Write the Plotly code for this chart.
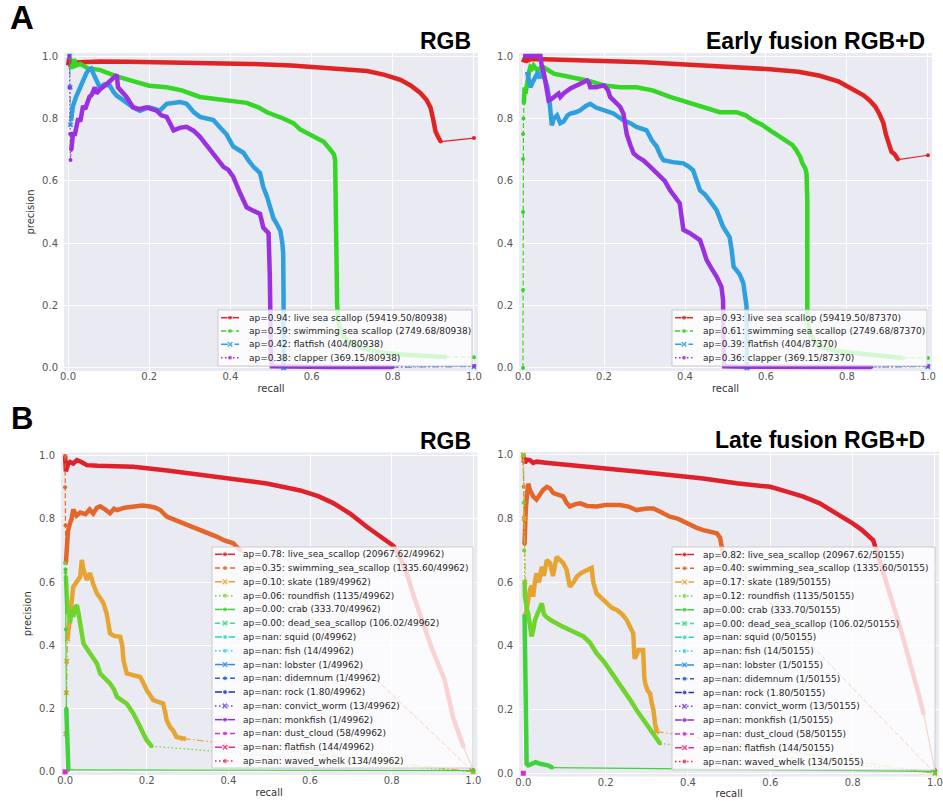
import plotly.graph_objects as go

W, H = 943, 807

# ======================= DATA =======================
# ---- Panel A, left: RGB ----
A_total_rgb = "80938"
A_total_early = "87370"
A_names = ["live sea scallop", "swimming sea scallop", "flatfish", "clapper"]
A_counts = ["59419.50", "2749.68", "404", "369.15"]
A1_ap = ["0.94", "0.59", "0.42", "0.38"]
A2_ap = ["0.93", "0.61", "0.39", "0.36"]

A1_live_x = [0.0, 0.003, 0.006, 0.01, 0.03, 0.08, 0.15, 0.25, 0.325, 0.45, 0.55, 0.605, 0.68, 0.737, 0.78,
             0.819, 0.845, 0.868, 0.883, 0.893, 0.9, 0.905, 0.91, 0.918]
A1_live_y = [0.97, 0.995, 0.965, 0.978, 0.98, 0.983, 0.982, 0.98, 0.979, 0.975, 0.97, 0.965, 0.958, 0.952, 0.94,
             0.924, 0.905, 0.882, 0.86, 0.835, 0.795, 0.76, 0.745, 0.726]
A1_live_thin_x = [0.918, 1.0]
A1_live_thin_y = [0.726, 0.737]

A1_swim_x = [0.005, 0.01, 0.015, 0.02, 0.03, 0.05, 0.078, 0.12, 0.16, 0.2, 0.243, 0.28, 0.325, 0.37, 0.407, 0.44,
             0.47, 0.49, 0.53, 0.555, 0.572, 0.595, 0.613, 0.63, 0.646, 0.655, 0.658, 0.66, 0.661, 0.663, 0.667,
             0.675, 0.69, 0.71, 0.74, 0.78, 0.83, 0.88, 0.93]
A1_swim_y = [0.975, 0.96, 0.99, 0.97, 0.975, 0.96, 0.956, 0.935, 0.92, 0.905, 0.9, 0.89, 0.869, 0.862, 0.856, 0.85,
             0.835, 0.82, 0.8, 0.785, 0.765, 0.75, 0.74, 0.725, 0.70, 0.685, 0.666, 0.5, 0.3, 0.2, 0.14,
             0.11, 0.085, 0.07, 0.058, 0.048, 0.042, 0.038, 0.035]
A1_swim_thin_x = [0.93, 1.0]
A1_swim_thin_y = [0.035, 0.034]

A1_flat_x = [0.008, 0.012, 0.02, 0.03, 0.037, 0.045, 0.05, 0.057, 0.062, 0.07, 0.078, 0.09, 0.103, 0.112, 0.12,
             0.14, 0.16, 0.177, 0.19, 0.2, 0.215, 0.226, 0.243, 0.26, 0.276, 0.292, 0.31, 0.325, 0.34, 0.358,
             0.375, 0.39, 0.407, 0.42, 0.432, 0.445, 0.457, 0.473, 0.481, 0.49, 0.498, 0.506, 0.515, 0.523,
             0.528, 0.53, 0.531, 0.531]
A1_flat_y = [0.8, 0.84, 0.87, 0.9, 0.93, 0.945, 0.955, 0.96, 0.945, 0.92, 0.90, 0.91, 0.905, 0.885, 0.873,
             0.855, 0.836, 0.825, 0.83, 0.836, 0.83, 0.825, 0.847, 0.85, 0.853, 0.847, 0.82, 0.805, 0.8, 0.795,
             0.77, 0.75, 0.71, 0.70, 0.69, 0.665, 0.645, 0.625, 0.58, 0.55, 0.515, 0.48, 0.46, 0.44,
             0.40, 0.367, 0.22, 0.0]
A1_flat_thin_x = [0.004, 0.005, 0.006, 0.008, None, 0.531, 1.0]
A1_flat_thin_y = [1.0, 0.9, 0.78, 0.8, None, 0.0, 0.004]

A1_clap_x = [0.008, 0.012, 0.017, 0.025, 0.03, 0.037, 0.042, 0.053, 0.058, 0.066, 0.07, 0.08, 0.095, 0.11, 0.12,
             0.123, 0.135, 0.144, 0.16, 0.175, 0.193, 0.205, 0.218, 0.23, 0.243, 0.26, 0.275, 0.292, 0.31, 0.325,
             0.34, 0.358, 0.37, 0.383, 0.395, 0.407, 0.424, 0.44, 0.455, 0.473, 0.481, 0.494, 0.497, 0.498, 0.5,
             0.502, 0.55, 0.65, 0.8]
A1_clap_y = [0.7, 0.75, 0.75, 0.8, 0.79, 0.84, 0.83, 0.87, 0.875, 0.9, 0.88, 0.895, 0.91, 0.93, 0.94,
             0.9, 0.88, 0.869, 0.836, 0.83, 0.836, 0.83, 0.825, 0.81, 0.805, 0.762, 0.77, 0.773, 0.76, 0.741,
             0.715, 0.688, 0.665, 0.645, 0.635, 0.613, 0.56, 0.515, 0.505, 0.494, 0.45, 0.432, 0.3, 0.11, 0.03,
             0.005, 0.004, 0.003, 0.003]
A1_clap_thin_x = [0.003, 0.004, 0.005, 0.006, 0.008, None, 0.8, 1.0]
A1_clap_thin_y = [1.0, 0.9, 0.75, 0.667, 0.7, None, 0.003, 0.006]

# ---- Panel A, right: Early fusion RGB+D ----
A2_live_x = [0.0, 0.005, 0.01, 0.02, 0.05, 0.1, 0.2, 0.3, 0.445, 0.53, 0.61, 0.68, 0.733, 0.78, 0.815, 0.84,
             0.856, 0.87, 0.88, 0.89, 0.896, 0.903, 0.91, 0.918, 0.926]
A2_live_y = [0.98, 0.995, 0.985, 0.99, 0.99, 0.988, 0.986, 0.98, 0.97, 0.965, 0.958, 0.95, 0.937, 0.918, 0.895,
             0.875, 0.858, 0.838, 0.815, 0.785, 0.75, 0.72, 0.693, 0.685, 0.668]
A2_live_thin_x = [0.926, 1.0]
A2_live_thin_y = [0.668, 0.682]

A2_swim_x = [0.002, 0.004, 0.006, 0.01, 0.015, 0.018, 0.022, 0.026, 0.03, 0.035, 0.04, 0.05, 0.076, 0.117, 0.158,
             0.2, 0.24, 0.28, 0.32, 0.363, 0.4, 0.445, 0.486, 0.527, 0.55, 0.568, 0.59, 0.61, 0.63, 0.65, 0.665,
             0.675, 0.685, 0.69, 0.697, 0.7, 0.702, 0.702, 0.703, 0.708, 0.72, 0.733, 0.77, 0.815, 0.87, 0.938]
A2_swim_y = [0.85, 0.9, 0.88, 0.92, 0.95, 0.965, 0.96, 0.97, 0.96, 0.954, 0.96, 0.965, 0.944, 0.933, 0.922,
             0.906, 0.9, 0.9, 0.89, 0.869, 0.855, 0.837, 0.82, 0.82, 0.81, 0.794, 0.78, 0.762, 0.745, 0.73, 0.715,
             0.698, 0.675, 0.656, 0.64, 0.624, 0.54, 0.197, 0.15, 0.112, 0.085, 0.069, 0.055, 0.048, 0.04, 0.032]
A2_swim_thin_x = [0.0, 0.0, 0.0, 0.0, 0.0, 0.001, 0.002, None, 0.938, 1.0]
A2_swim_thin_y = [0.0, 0.25, 0.5, 0.67, 0.75, 0.8, 0.85, None, 0.032, 0.032]

A2_flat_x = [0.01, 0.018, 0.025, 0.035, 0.042, 0.047, 0.053, 0.06, 0.065, 0.068, 0.071, 0.076, 0.084, 0.092, 0.1,
             0.11, 0.117, 0.13, 0.141, 0.155, 0.166, 0.18, 0.2, 0.223, 0.248, 0.265, 0.28, 0.305, 0.318, 0.33,
             0.34, 0.347, 0.37, 0.396, 0.41, 0.42, 0.437, 0.45, 0.46, 0.478, 0.494, 0.51, 0.515, 0.52, 0.535,
             0.544, 0.552, 0.552, 0.553]
A2_flat_y = [0.95, 0.9, 0.92, 0.944, 0.93, 0.954, 0.93, 0.9, 0.86, 0.826, 0.778, 0.8, 0.81, 0.785, 0.79,
             0.81, 0.816, 0.82, 0.826, 0.84, 0.847, 0.835, 0.826, 0.816, 0.794, 0.785, 0.773, 0.762, 0.73, 0.71,
             0.68, 0.666, 0.66, 0.656, 0.645, 0.634, 0.57, 0.555, 0.538, 0.506, 0.453, 0.42, 0.38, 0.325, 0.3,
             0.272, 0.197, 0.05, 0.0]
A2_flat_thin_x = [0.553, 1.0]
A2_flat_thin_y = [0.0, 0.004]

A2_clap_x = [0.0, 0.02, 0.043, 0.046, 0.05, 0.055, 0.063, 0.07, 0.076, 0.088, 0.092, 0.1, 0.117, 0.14, 0.158,
             0.163, 0.166, 0.18, 0.2, 0.21, 0.215, 0.23, 0.24, 0.248, 0.252, 0.256, 0.265, 0.273, 0.285, 0.297,
             0.31, 0.322, 0.338, 0.35, 0.363, 0.375, 0.387, 0.392, 0.396, 0.412, 0.425, 0.437, 0.445, 0.453,
             0.465, 0.478, 0.49, 0.494, 0.495, 0.497, 0.55, 0.7, 0.86]
A2_clap_y = [1.0, 1.0, 1.0, 0.97, 0.954, 0.92, 0.858, 0.862, 0.869, 0.88, 0.869, 0.88, 0.896, 0.91, 0.922,
             0.915, 0.9, 0.9, 0.906, 0.89, 0.869, 0.85, 0.837, 0.815, 0.78, 0.75, 0.715, 0.688, 0.675, 0.666,
             0.65, 0.634, 0.613, 0.6, 0.57, 0.55, 0.528, 0.48, 0.443, 0.432, 0.42, 0.41, 0.38, 0.347,
             0.32, 0.293, 0.26, 0.218, 0.1, 0.005, 0.004, 0.003, 0.003]
A2_clap_thin_x = [0.86, 1.0]
A2_clap_thin_y = [0.003, 0.006]

# ---- Panel B ----
B_total_rgb = "49962"
B_total_late = "50155"
B_names = ["live_sea_scallop", "swimming_sea_scallop", "skate", "roundfish", "crab", "dead_sea_scallop",
           "squid", "fish", "lobster", "didemnum", "rock", "convict_worm", "monkfish", "dust_cloud",
           "flatfish", "waved_whelk"]
B_counts = ["20967.62", "1335.60", "189", "1135", "333.70", "106.02", "0", "14", "1", "1", "1.80", "13",
            "1", "58", "144", "134"]
B1_ap = ["0.78", "0.35", "0.10", "0.06", "0.00", "0.00"] + ["nan"] * 10
B2_ap = ["0.82", "0.40", "0.17", "0.12", "0.00", "0.00"] + ["nan"] * 10

# B left: RGB
B1_live_x = [0.0, 0.002, 0.004, 0.008, 0.012, 0.02, 0.029, 0.04, 0.053, 0.08, 0.12, 0.167, 0.25, 0.33, 0.41,
             0.494, 0.576, 0.62, 0.657, 0.7, 0.739, 0.76, 0.78, 0.804, 0.82, 0.837, 0.853, 0.87, 0.885, 0.9,
             0.915, 0.93, 0.95, 0.965, 0.976]
B1_live_y = [1.0, 0.95, 0.96, 0.975, 0.98, 0.975, 0.986, 0.98, 0.97, 0.968, 0.967, 0.965, 0.953, 0.94, 0.928,
             0.912, 0.89, 0.872, 0.85, 0.815, 0.775, 0.755, 0.735, 0.715, 0.68, 0.628, 0.56, 0.49, 0.44, 0.385,
             0.34, 0.29, 0.174, 0.12, 0.079]
B1_live_thin_x = [0.976, 1.0]
B1_live_thin_y = [0.079, 0.005]

B1_swim_x = [0.002, 0.004, 0.007, 0.012, 0.016, 0.02, 0.028, 0.037, 0.05, 0.06, 0.069, 0.078, 0.086, 0.098, 0.11,
             0.12, 0.127, 0.145, 0.167, 0.19, 0.208, 0.22, 0.233, 0.249, 0.27, 0.29, 0.31, 0.33, 0.35, 0.371,
             0.39, 0.412, 0.42, 0.43]
B1_swim_y = [0.66, 0.72, 0.76, 0.786, 0.8, 0.83, 0.81, 0.82, 0.815, 0.83, 0.817, 0.835, 0.84, 0.83, 0.818,
             0.832, 0.828, 0.835, 0.839, 0.842, 0.839, 0.836, 0.828, 0.807, 0.796, 0.786, 0.776, 0.765, 0.755,
             0.744, 0.732, 0.723, 0.712, 0.70]
B1_swim_thin_x = [0.0, 0.0, 0.001, 0.002, None, 0.43, 1.0]
B1_swim_thin_y = [1.0, 0.9, 0.78, 0.66, None, 0.70, 0.0]

B1_skate_x = [0.006, 0.01, 0.015, 0.02, 0.028, 0.037, 0.041, 0.045, 0.053, 0.061, 0.07, 0.078, 0.086, 0.094,
              0.102, 0.11, 0.12, 0.135, 0.14, 0.143, 0.151, 0.165, 0.184, 0.192, 0.2, 0.216, 0.228, 0.24, 0.245,
              0.249, 0.257, 0.265, 0.273, 0.29]
B1_skate_y = [0.42, 0.47, 0.52, 0.585, 0.6, 0.617, 0.67, 0.64, 0.607, 0.628, 0.59, 0.564, 0.55, 0.533,
              0.5, 0.438, 0.43, 0.427, 0.4, 0.353, 0.311, 0.305, 0.3, 0.28, 0.258, 0.227, 0.22, 0.216, 0.19,
              0.163, 0.142, 0.13, 0.11, 0.105]
B1_skate_thin_x = [0.002, 0.003, 0.004, 0.006, None, 0.29, 1.0]
B1_skate_thin_y = [0.12, 0.25, 0.35, 0.42, None, 0.105, 0.0]

B1_round_x = [0.002, 0.004, 0.006, 0.008, 0.01, 0.012, 0.016, 0.02, 0.024, 0.029, 0.033, 0.037, 0.045, 0.053,
              0.061, 0.07, 0.078, 0.086, 0.098, 0.11, 0.12, 0.127, 0.14, 0.151, 0.167, 0.176, 0.184, 0.192, 0.2,
              0.212]
B1_round_y = [0.617, 0.55, 0.5, 0.52, 0.48, 0.47, 0.51, 0.49, 0.52, 0.527, 0.5, 0.47, 0.406, 0.39, 0.374,
              0.36, 0.343, 0.311, 0.295, 0.28, 0.26, 0.237, 0.225, 0.216, 0.185, 0.165, 0.142, 0.12, 0.1, 0.081]
B1_round_thin_x = [0.0, 0.001, 0.002, None, 0.212, 1.0]
B1_round_thin_y = [0.66, 0.63, 0.617, None, 0.081, 0.0]

B1_crab_x = [0.003, 0.004, 0.005, 0.006, 0.008]
B1_crab_y = [0.2, 0.12, 0.06, 0.03, 0.006]
B1_crab_thin_x = [0.001, 0.002, 0.003, None, 0.008, 1.0]
B1_crab_thin_y = [0.64, 0.45, 0.2, None, 0.006, 0.004]

B1_dust_x = [0.0]
B1_dust_y = [0.0]

# B right: Late fusion RGB+D
B2_live_x = [0.0, 0.004, 0.008, 0.016, 0.024, 0.032, 0.06, 0.113, 0.194, 0.275, 0.356, 0.437, 0.518, 0.6, 0.64,
             0.68, 0.72, 0.761, 0.8, 0.822, 0.842, 0.85, 0.865, 0.883, 0.9, 0.915, 0.93, 0.947, 0.96, 0.972]
B2_live_y = [1.0, 0.975, 0.985, 0.984, 0.975, 0.979, 0.975, 0.969, 0.958, 0.948, 0.937, 0.926, 0.911, 0.9, 0.885,
             0.869, 0.848, 0.817, 0.785, 0.765, 0.743, 0.732, 0.67, 0.597, 0.53, 0.46, 0.39, 0.314, 0.25, 0.189]
B2_live_thin_x = [0.972, 1.0]
B2_live_thin_y = [0.189, 0.01]

B2_swim_x = [0.003, 0.004, 0.006, 0.008, 0.012, 0.016, 0.02, 0.024, 0.032, 0.04, 0.048, 0.057, 0.065, 0.073,
             0.085, 0.097, 0.105, 0.113, 0.125, 0.138, 0.155, 0.178, 0.2, 0.235, 0.255, 0.275, 0.3, 0.316, 0.335,
             0.356, 0.375, 0.397, 0.42, 0.437, 0.455, 0.47, 0.478, 0.482, 0.485]
B2_swim_y = [0.72, 0.785, 0.83, 0.86, 0.91, 0.89, 0.88, 0.87, 0.86, 0.875, 0.89, 0.9, 0.895, 0.88,
             0.875, 0.87, 0.85, 0.838, 0.845, 0.848, 0.84, 0.838, 0.843, 0.843, 0.838, 0.827, 0.832, 0.832, 0.82,
             0.806, 0.8, 0.785, 0.772, 0.764, 0.76, 0.754, 0.74, 0.712, 0.69]
B2_swim_thin_x = [0.0, 0.001, 0.002, 0.003, None, 0.485, 1.0]
B2_swim_thin_y = [0.98, 0.9, 0.8, 0.72, None, 0.69, 0.0]

B2_skate_x = [0.006, 0.008, 0.012, 0.016, 0.02, 0.024, 0.028, 0.032, 0.038, 0.045, 0.05, 0.057, 0.065, 0.072,
              0.081, 0.09, 0.097, 0.105, 0.113, 0.122, 0.13, 0.142, 0.154, 0.166, 0.17, 0.178, 0.19, 0.202, 0.215,
              0.227, 0.24, 0.251, 0.26, 0.267, 0.27, 0.271, 0.28, 0.291, 0.294, 0.296, 0.302, 0.308, 0.312,
              0.316, 0.32, 0.324]
B2_skate_y = [0.5, 0.52, 0.55, 0.576, 0.59, 0.555, 0.6, 0.628, 0.6, 0.649, 0.62, 0.67, 0.66, 0.62,
              0.68, 0.67, 0.66, 0.64, 0.586, 0.6, 0.618, 0.63, 0.639, 0.645, 0.6, 0.565, 0.55, 0.534, 0.52,
              0.513, 0.5, 0.482, 0.46, 0.44, 0.366, 0.36, 0.387, 0.387, 0.3, 0.283, 0.26, 0.251, 0.22,
              0.199, 0.157, 0.131]
B2_skate_thin_x = [0.0, 0.002, 0.004, 0.006, None, 0.324, 1.0]
B2_skate_thin_y = [1.0, 0.8, 0.6, 0.5, None, 0.131, 0.0]

B2_round_x = [0.003, 0.004, 0.008, 0.012, 0.016, 0.02, 0.024, 0.028, 0.034, 0.04, 0.045, 0.05, 0.057, 0.068,
              0.081, 0.097, 0.113, 0.13, 0.146, 0.162, 0.178, 0.195, 0.21, 0.227, 0.243, 0.26, 0.275, 0.292,
              0.308, 0.32, 0.332]
B2_round_y = [0.6, 0.555, 0.52, 0.5, 0.466, 0.43, 0.45, 0.48, 0.5, 0.523, 0.534, 0.5, 0.49, 0.48,
              0.47, 0.46, 0.45, 0.44, 0.43, 0.41, 0.377, 0.352, 0.325, 0.295, 0.262, 0.23, 0.199, 0.168,
              0.136, 0.112, 0.094]
B2_round_thin_x = [0.0, 0.001, 0.002, 0.003, None, 0.332, 1.0]
B2_round_thin_y = [1.0, 0.85, 0.7, 0.6, None, 0.094, 0.0]

B2_crab_x = [0.003, 0.004, 0.005, 0.006, 0.008, 0.012, 0.02, 0.03, 0.04, 0.05, 0.06, 0.07]
B2_crab_y = [0.5, 0.35, 0.2, 0.08, 0.03, 0.025, 0.03, 0.035, 0.03, 0.028, 0.025, 0.018]
B2_crab_thin_x = [0.07, 1.0]
B2_crab_thin_y = [0.018, 0.006]

B2_dust_x = [0.0]
B2_dust_y = [0.0]

# ======================= STYLE =======================
A_colors = ["#e02424", "#35d625", "#2e9fdf", "#9b30e0"]
B_colors = ["#e0202a", "#e4662a", "#e6a532", "#6fd42d", "#3fd23a", "#3ddc95", "#2ed3bd", "#35c6e3",
            "#2f8ee0", "#2f5fd3", "#1f2fb5", "#6a3fd6", "#8a2fd6", "#d22fd0", "#e0308c", "#d42e4c"]
LINESTYLES = ["-", "--", "-.", ":"]
MARKERS = [".", ".", "x"]
DASH = {"-": "solid", "--": "5px,2.5px", "-.": "7px,2.5px,1.5px,2.5px", ":": "1.5px,2.5px"}
SYMBOL = {".": "circle", "x": "x"}

BG = "#EAEAF2"
TICK_FONT = dict(family="DejaVu Sans", size=10, color="#555555")
LABEL_FONT = dict(family="DejaVu Sans", size=10, color="#333333")
LEG_FONT = dict(family="DejaVu Sans", size=9, color="#262626")

# panel pixel boxes: left, right, top, bottom
PANELS = [
    dict(l=64, r=478, t=53, b=371),
    dict(l=519, r=932, t=53, b=371),
    dict(l=61, r=477.4, t=452.5, b=775),
    dict(l=519.2, r=939.1, t=451.8, b=776.5),
]

fig = go.Figure()


def ax(k, kind):
    return kind if k == 1 else f"{kind}{k}"


def add_series(k, i, color, dx, dy, tx, ty):
    ls = LINESTYLES[i % 4]
    mk = MARKERS[i % 3]
    if dx:
        fig.add_trace(go.Scatter(x=dx, y=dy, mode="lines", line=dict(color=color, width=4.5),
                                 xaxis=ax(k, "x"), yaxis=ax(k, "y"), showlegend=False, hoverinfo="skip"))
    if tx:
        fig.add_trace(go.Scatter(x=tx, y=ty, mode="lines+markers",
                                 line=dict(color=color, width=1.2, dash=DASH[ls]),
                                 marker=dict(symbol=SYMBOL[mk], size=4 if mk == "." else 5, color=color),
                                 xaxis=ax(k, "x"), yaxis=ax(k, "y"), showlegend=False, hoverinfo="skip"))


def add_legend(k, box, first, step, sx0, sx1, tx, labels, colors):
    xa, ya = f"x{k + 4}", f"y{k + 4}"
    bl, bt, br, bb = box
    fig.add_trace(go.Scatter(x=[bl, br, br, bl, bl], y=[bt, bt, bb, bb, bt], mode="lines", fill="toself",
                             fillcolor="rgba(255,255,255,0.8)", line=dict(color="rgba(200,200,200,0.9)", width=1),
                             xaxis=xa, yaxis=ya, showlegend=False, hoverinfo="skip"))
    for i, (lab, col) in enumerate(zip(labels, colors)):
        yy = first + i * step
        ls = LINESTYLES[i % 4]
        mk = MARKERS[i % 3]
        fig.add_trace(go.Scatter(x=[sx0, (sx0 + sx1) / 2, sx1], y=[yy, yy, yy], mode="lines+markers",
                                 line=dict(color=col, width=1.5, dash=DASH[ls]),
                                 marker=dict(symbol=SYMBOL[mk], size=[0, 5 if mk == "." else 6, 0], color=col),
                                 xaxis=xa, yaxis=ya, showlegend=False, hoverinfo="skip"))
        fig.add_annotation(x=tx, y=yy, xref=xa, yref=ya, text=lab, showarrow=False, xanchor="left",
                           yanchor="middle", font=LEG_FONT)


# ---- panel A series ----
A1_series = [(A1_live_x, A1_live_y, A1_live_thin_x, A1_live_thin_y),
             (A1_swim_x, A1_swim_y, A1_swim_thin_x, A1_swim_thin_y),
             (A1_flat_x, A1_flat_y, A1_flat_thin_x, A1_flat_thin_y),
             (A1_clap_x, A1_clap_y, A1_clap_thin_x, A1_clap_thin_y)]
A2_series = [(A2_live_x, A2_live_y, A2_live_thin_x, A2_live_thin_y),
             (A2_swim_x, A2_swim_y, A2_swim_thin_x, A2_swim_thin_y),
             (A2_flat_x, A2_flat_y, A2_flat_thin_x, A2_flat_thin_y),
             (A2_clap_x, A2_clap_y, A2_clap_thin_x, A2_clap_thin_y)]
for k, series in ((1, A1_series), (2, A2_series)):
    for i, (dx, dy, tx, ty) in enumerate(series):
        add_series(k, i, A_colors[i], dx, dy, tx, ty)

# ---- panel B series ----
empty = ([], [], [], [])
B1_series = [(B1_live_x, B1_live_y, B1_live_thin_x, B1_live_thin_y),
             (B1_swim_x, B1_swim_y, B1_swim_thin_x, B1_swim_thin_y),
             (B1_skate_x, B1_skate_y, B1_skate_thin_x, B1_skate_thin_y),
             (B1_round_x, B1_round_y, B1_round_thin_x, B1_round_thin_y),
             (B1_crab_x, B1_crab_y, B1_crab_thin_x, B1_crab_thin_y)] + [empty] * 11
B2_series = [(B2_live_x, B2_live_y, B2_live_thin_x, B2_live_thin_y),
             (B2_swim_x, B2_swim_y, B2_swim_thin_x, B2_swim_thin_y),
             (B2_skate_x, B2_skate_y, B2_skate_thin_x, B2_skate_thin_y),
             (B2_round_x, B2_round_y, B2_round_thin_x, B2_round_thin_y),
             (B2_crab_x, B2_crab_y, B2_crab_thin_x, B2_crab_thin_y)] + [empty] * 11
for k, series, dust in ((3, B1_series, (B1_dust_x, B1_dust_y)), (4, B2_series, (B2_dust_x, B2_dust_y))):
    for i, (dx, dy, tx, ty) in enumerate(series):
        add_series(k, i, B_colors[i], dx, dy, tx, ty)
    di = B_names.index("dust_cloud")
    fig.add_trace(go.Scatter(x=dust[0], y=dust[1], mode="markers",
                             marker=dict(symbol="square", size=5, color=B_colors[di]),
                             xaxis=ax(k, "x"), yaxis=ax(k, "y"), showlegend=False, hoverinfo="skip"))

# ---- legends ----
A1_labels = [f"ap={a}: {n} ({c}/{A_total_rgb})" for a, n, c in zip(A1_ap, A_names, A_counts)]
A2_labels = [f"ap={a}: {n} ({c}/{A_total_early})" for a, n, c in zip(A2_ap, A_names, A_counts)]
B1_labels = [f"ap={a}: {n} ({c}/{B_total_rgb})" for a, n, c in zip(B1_ap, B_names, B_counts)]
B2_labels = [f"ap={a}: {n} ({c}/{B_total_late})" for a, n, c in zip(B2_ap, B_names, B_counts)]

add_legend(1, (218, 310, 472, 366), 317.7, 13.33, 221, 239, 246.5, A1_labels, A_colors)
add_legend(2, (672, 310, 927, 366), 317.7, 13.33, 675, 693, 700.5, A2_labels, A_colors)
add_legend(3, (212, 547, 473, 768), 554.3, 13.78, 215, 235, 240.5, B1_labels, B_colors)
add_legend(4, (672, 547, 935, 770), 554.5, 13.8, 675, 694, 700.5, B2_labels, B_colors)

# ---- axes ----
layout_axes = {}
ticks = [0.0, 0.2, 0.4, 0.6, 0.8, 1.0]
for k, p in enumerate(PANELS, start=1):
    xd = [p["l"] / W, p["r"] / W]
    yd = [1 - p["b"] / H, 1 - p["t"] / H]
    xname = "xaxis" if k == 1 else f"xaxis{k}"
    yname = "yaxis" if k == 1 else f"yaxis{k}"
    layout_axes[xname] = dict(domain=xd, range=[-0.01, 1.01], tickvals=ticks, tickformat=".1f",
                              showgrid=True, gridcolor="white", gridwidth=1, zeroline=False, showline=False,
                              ticks="", ticklabelstandoff=-2, tickfont=TICK_FONT, anchor=ax(k, "y"),
                              automargin=False,
                              title=dict(text="recall", font=LABEL_FONT, standoff=3))
    layout_axes[yname] = dict(domain=yd, range=[-0.01, 1.01], tickvals=ticks, tickformat=".1f",
                              showgrid=True, gridcolor="white", gridwidth=1, zeroline=False, showline=False,
                              ticks="", ticklabelstandoff=5, tickfont=TICK_FONT, anchor=ax(k, "x"),
                              automargin=False,
                              title=dict(text="precision" if k in (1, 3) else "", font=LABEL_FONT, standoff=5))
    layout_axes[f"xaxis{k + 4}"] = dict(domain=xd, overlaying=ax(k, "x"), range=[p["l"], p["r"]],
                                        visible=False, anchor=f"y{k + 4}", automargin=False)
    layout_axes[f"yaxis{k + 4}"] = dict(domain=yd, overlaying=ax(k, "y"), range=[p["b"], p["t"]],
                                        visible=False, anchor=f"x{k + 4}", automargin=False)

fig.update_layout(**layout_axes)

# ---- titles & panel letters ----
TITLE_FONT = dict(family="Liberation Sans", size=23, color="black")
titles = [("<b>RGB</b>", 473, 41), ("<b>Early fusion RGB+D</b>", 927, 41),
          ("<b>RGB</b>", 473, 441), ("<b>Late fusion RGB+D</b>", 927, 440)]
for text, xr, yc in titles:
    fig.add_annotation(x=xr / W, y=1 - yc / H, xref="paper", yref="paper", text=text, showarrow=False,
                       xanchor="right", yanchor="middle", font=TITLE_FONT)
for text, xc, yc, sz in (("<b>A</b>", 22, 18, 33), ("<b>B</b>", 22, 418, 31)):
    fig.add_annotation(x=xc / W, y=1 - yc / H, xref="paper", yref="paper", text=text, showarrow=False,
                       xanchor="center", yanchor="middle",
                       font=dict(family="Liberation Sans", size=sz, color="black"))

fig.update_layout(template="none", width=W, height=H, autosize=False, margin=dict(l=0, r=0, t=0, b=0),
                  paper_bgcolor="white", plot_bgcolor=BG, showlegend=False, hovermode=False,
                  font=dict(family="DejaVu Sans", size=10, color="#333333"))

fig.write_html("out.html", config={"displayModeBar": False},
               post_script="document.body.style.margin='0px';document.body.style.overflow='hidden';")
